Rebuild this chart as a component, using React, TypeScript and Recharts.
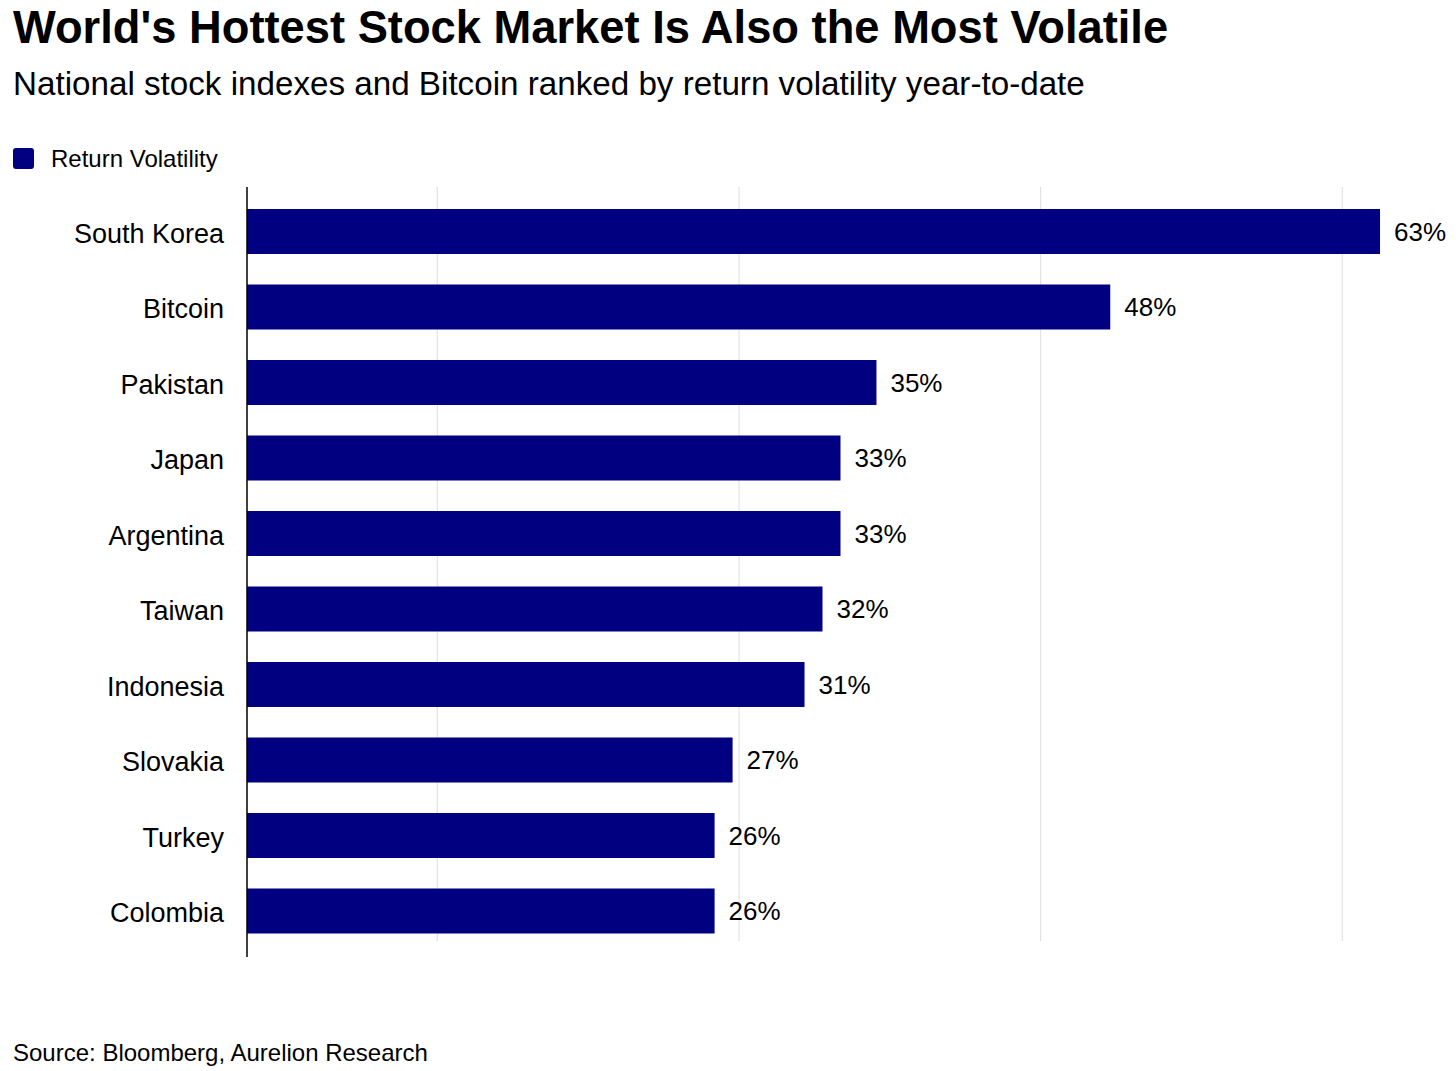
import { BarChart, Bar, XAxis, YAxis, CartesianGrid, LabelList } from "recharts";

const countries = [
	"South Korea",
	"Bitcoin",
	"Pakistan",
	"Japan",
	"Argentina",
	"Taiwan",
	"Indonesia",
	"Slovakia",
	"Turkey",
	"Colombia",
];
const volatility = [63, 48, 35, 33, 33, 32, 31, 27, 26, 26];
const gridTicks = [10.58, 27.36, 44.13, 60.9];

const data = countries.map((name, i) => ({ name, value: volatility[i] }));

const FONT = '"Liberation Sans", Arial, Helvetica, sans-serif';
const NAVY = "#000080";

export default function App() {
	return (
		<div
			style={{
				position: "absolute",
				left: 0,
				top: 0,
				width: 1456,
				height: 1071,
				background: "#ffffff",
				fontFamily: FONT,
				color: "#000000",
			}}
		>
			<div
				style={{
					position: "absolute",
					left: 13,
					top: 5,
					fontSize: 45.3,
					fontWeight: 700,
					lineHeight: 1,
					whiteSpace: "nowrap",
				}}
			>
				World's Hottest Stock Market Is Also the Most Volatile
			</div>
			<div
				style={{
					position: "absolute",
					left: 13,
					top: 67,
					fontSize: 33.2,
					lineHeight: 1,
					whiteSpace: "nowrap",
				}}
			>
				National stock indexes and Bitcoin ranked by return volatility year-to-date
			</div>

			{/* legend */}
			<div
				style={{
					position: "absolute",
					left: 13,
					top: 148,
					width: 21,
					height: 21,
					borderRadius: 3,
					background: NAVY,
				}}
			/>
			<div
				style={{
					position: "absolute",
					left: 51,
					top: 147,
					fontSize: 24,
					lineHeight: 1,
					whiteSpace: "nowrap",
				}}
			>
				Return Volatility
			</div>

			<div style={{ position: "absolute", left: 0, top: 0 }}>
				<BarChart
					width={1456}
					height={1071}
					data={data}
					layout="vertical"
					margin={{ top: 187, right: 40, bottom: 114, left: 0 }}
				>
					<CartesianGrid
						horizontal={false}
						syncWithTicks={true}
						vertical={(p: any) => (
							<line
								key={p.key}
								x1={p.x1}
								x2={p.x2}
								y1={p.y1}
								y2={p.y2 - 16}
								stroke="#dddddd"
								strokeWidth={1}
							/>
						)}
					/>
					<XAxis
						type="number"
						domain={[0, 65]}
						ticks={gridTicks}
						height={0}
						tick={() => <g />}
						tickLine={false}
						axisLine={false}
					/>
					<YAxis
						type="category"
						dataKey="name"
						width={247}
						padding={{ top: 7, bottom: 8 }}
						tickLine={false}
						tickSize={0}
						tickMargin={23}
						axisLine={{ stroke: "#000000", strokeWidth: 1.5 }}
						tick={{ fill: "#000000", fontSize: 27, fontFamily: FONT, dy: 1.5 }}
					/>
					<Bar dataKey="value" fill={NAVY} barSize={45} isAnimationActive={false}>
						<LabelList
							dataKey="value"
							position="right"
							offset={14}
							formatter={(v: any) => `${v}%`}
							style={{ fill: "#000000", fontSize: 26, fontFamily: FONT }}
						/>
					</Bar>
				</BarChart>
			</div>

			<div
				style={{
					position: "absolute",
					left: 13,
					top: 1041,
					fontSize: 24,
					lineHeight: 1,
					whiteSpace: "nowrap",
				}}
			>
				Source: Bloomberg, Aurelion Research
			</div>
		</div>
	);
}
